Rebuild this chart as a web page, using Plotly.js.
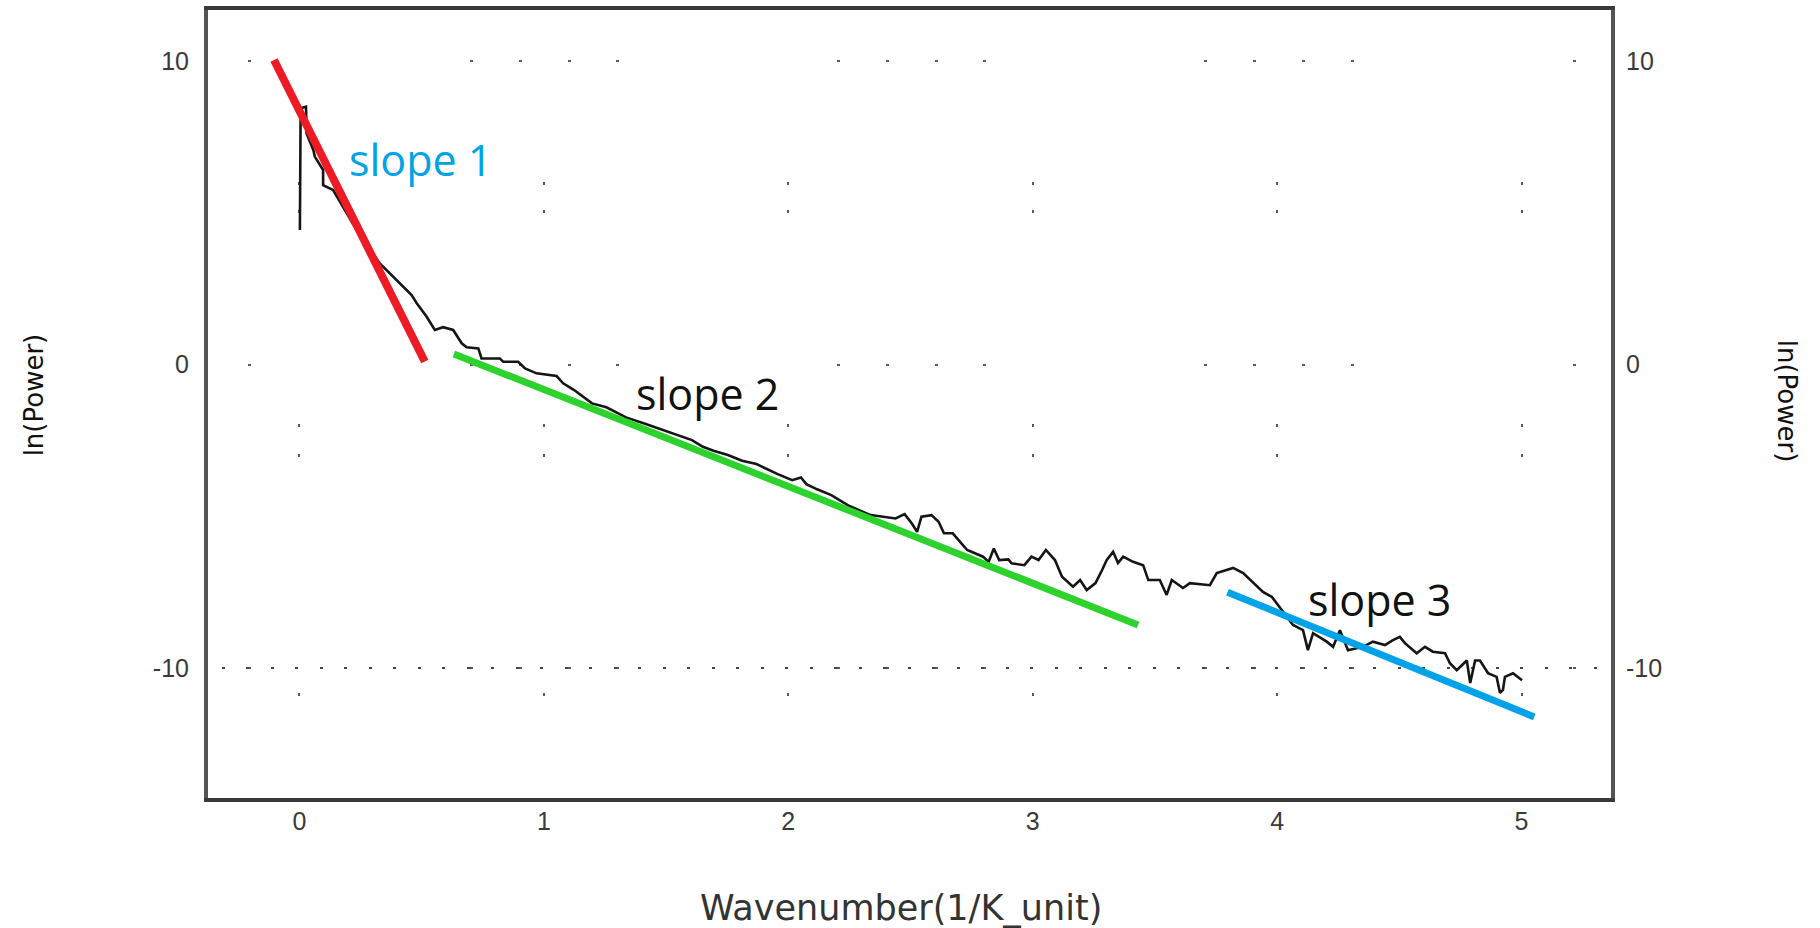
<!DOCTYPE html>
<html>
<head>
<meta charset="utf-8">
<script src="https://cdn.plot.ly/plotly-3.0.1.min.js"></script>
<style>
  html, body { margin: 0; padding: 0; background: #ffffff; }
  #chart { width: 1820px; height: 928px; }
</style>
</head>
<body>
<div id="chart"></div>
<script>
// ---------------- DATA ----------------
// Spectrum: ln(Power) against wavenumber
const wavenumber = [
  0.002, 0.005, 0.027, 0.029, 0.057, 0.063, 0.097, 0.097, 0.138, 0.234,
  0.329, 0.370, 0.411, 0.439, 0.459, 0.480, 0.520, 0.554, 0.588, 0.629,
  0.664, 0.684, 0.732, 0.745, 0.820, 0.834, 0.895, 0.923, 0.970, 1.052,
  1.079, 1.124, 1.197, 1.256, 1.300, 1.336, 1.417, 1.490, 1.534, 1.606,
  1.651, 1.694, 1.753, 1.811, 1.870, 1.913, 1.957, 2.016, 2.052, 2.074,
  2.118, 2.176, 2.220, 2.250, 2.337, 2.439, 2.476, 2.505, 2.527, 2.545,
  2.586, 2.615, 2.637, 2.673, 2.703, 2.732, 2.797, 2.820, 2.841, 2.863,
  2.900, 2.914, 2.966, 2.995, 3.024, 3.054, 3.091, 3.120, 3.165, 3.194,
  3.221, 3.257, 3.284, 3.303, 3.329, 3.349, 3.370, 3.411, 3.452, 3.473,
  3.520, 3.548, 3.569, 3.615, 3.643, 3.725, 3.753, 3.820, 3.861, 3.902,
  3.942, 3.978, 3.998, 4.019, 4.065, 4.106, 4.126, 4.147, 4.203, 4.229,
  4.257, 4.290, 4.351, 4.392, 4.441, 4.474, 4.502, 4.523, 4.571, 4.605,
  4.637, 4.687, 4.707, 4.735, 4.776, 4.790, 4.810, 4.830, 4.863, 4.898,
  4.912, 4.924, 4.932, 4.965, 5.002
];
const lnPower = [
  4.43, 8.44, 8.49, 7.62, 7.07, 6.85, 6.41, 5.91, 5.75, 4.43,
  3.33, 3.00, 2.68, 2.45, 2.29, 2.02, 1.58, 1.14, 1.23, 1.14,
  0.70, 0.57, 0.53, 0.20, 0.20, 0.09, 0.09, -0.13, -0.29, -0.38,
  -0.62, -0.84, -1.28, -1.41, -1.59, -1.74, -1.96, -2.16, -2.29, -2.49,
  -2.71, -2.84, -2.98, -3.17, -3.28, -3.45, -3.61, -3.81, -3.72, -3.94,
  -4.11, -4.30, -4.52, -4.66, -4.96, -5.07, -4.93, -5.23, -5.51, -5.01,
  -4.96, -5.18, -5.56, -5.56, -5.84, -6.11, -6.33, -6.50, -6.06, -6.44,
  -6.42, -6.55, -6.61, -6.33, -6.44, -6.11, -6.44, -6.99, -7.32, -7.10,
  -7.43, -7.20, -6.77, -6.44, -6.17, -6.54, -6.33, -6.50, -6.61, -7.10,
  -7.10, -7.59, -7.10, -7.36, -7.20, -7.27, -6.87, -6.70, -6.87, -7.20,
  -7.49, -7.65, -7.86, -8.09, -8.58, -8.75, -9.41, -8.85, -9.13, -9.30,
  -8.75, -9.41, -9.30, -9.13, -9.24, -9.08, -8.97, -9.18, -9.51, -9.30,
  -9.46, -9.51, -9.84, -10.07, -9.75, -10.49, -9.75, -9.75, -10.17, -10.29,
  -10.82, -10.72, -10.29, -10.17, -10.40
];

// Hand-drawn slope lines (end points)
const slope1X = [-0.104, 0.513];
const slope1Y = [10.03, 0.10];
const slope2X = [0.632, 3.431];
const slope2Y = [0.35, -8.58];
const slope3X = [3.797, 5.052];
const slope3Y = [-7.50, -11.61];

const slopeLabels = ['slope 1', 'slope 2', 'slope 3'];

// Axis ticks
const xTickVals = [0, 1, 2, 3, 4, 5];
const xTickText = ['0', '1', '2', '3', '4', '5'];
const yTickVals = [-10, 0, 10];
const yTickText = ['-10', '0', '10'];

const xTitle = 'Wavenumber(1/K_unit)';
const yTitle = 'ln(Power)';

// ---------------- STYLE ----------------
const X_RANGE = [-0.374, 5.366];
const Y_RANGE = [-14.28, 11.68];

// dotted-grid patterns (pixel offsets of the dots along each grid line)
function dotPattern(offsets, dotLen, tail) {
  const parts = [];
  let pos = 0;
  parts.push('0px');
  offsets.forEach(function (o) {
    const start = o - dotLen / 2;
    parts.push((start - pos).toFixed(1) + 'px');
    parts.push(dotLen + 'px');
    pos = start + dotLen;
  });
  parts.push(tail + 'px');
  return parts.join(',');
}
const vDots = [173, 201, 415, 445, 684];
const hDots = [41, 263, 312, 361, 409, 630, 679, 728, 776, 997, 1046, 1095, 1144, 1366];
const denseDots = [];
for (let k = 0; k < 57; k++) denseDots.push(15 + 24.5 * k);

const tickFont = { family: 'Liberation Sans, Arial, sans-serif', size: 25, color: '#3a3a3a' };
const titleFont = { family: 'DejaVu Sans, sans-serif', size: 35, color: '#333333' };
const yTitleFont = { family: 'DejaVu Sans, sans-serif', size: 26, color: '#111111' };
const slopeFont = { family: 'Open Sans, sans-serif', size: 43 };

const traces = [
  {
    x: wavenumber, y: lnPower, type: 'scatter', mode: 'lines',
    line: { color: '#151515', width: 2.6 }, hoverinfo: 'skip', xaxis: 'x', yaxis: 'y'
  },
  {
    x: slope1X, y: slope1Y, type: 'scatter', mode: 'lines',
    line: { color: '#ed1c24', width: 8 }, xaxis: 'x', yaxis: 'y'
  },
  {
    x: slope2X, y: slope2Y, type: 'scatter', mode: 'lines',
    line: { color: '#2dd22d', width: 7 }, xaxis: 'x', yaxis: 'y2'
  },
  {
    x: slope3X, y: slope3Y, type: 'scatter', mode: 'lines',
    line: { color: '#00a2e8', width: 7 }, xaxis: 'x', yaxis: 'y3'
  }
];

const layout = {
  width: 1820, height: 928,
  margin: { l: 208, r: 209, t: 10, b: 130, pad: 0 },
  paper_bgcolor: '#ffffff', plot_bgcolor: '#ffffff',
  showlegend: false,
  xaxis: {
    range: X_RANGE, tickmode: 'array', tickvals: xTickVals, ticktext: xTickText,
    ticks: '', ticklabelstandoff: -2, tickfont: tickFont,
    showgrid: true, gridcolor: '#5a5a5a', gridwidth: 2, griddash: dotPattern(vDots, 3, 400),
    zeroline: false, showline: true, mirror: true, linecolor: '#3a3a3a', linewidth: 4,
    fixedrange: true
  },
  yaxis: {
    range: Y_RANGE, tickmode: 'array', tickvals: yTickVals, ticktext: yTickText,
    ticks: '', ticklabelstandoff: 10, tickfont: tickFont,
    showgrid: true, gridcolor: '#5a5a5a', gridwidth: 2, griddash: dotPattern(hDots, 3, 400),
    zeroline: false, showline: true, mirror: true, linecolor: '#555555', linewidth: 4,
    fixedrange: true
  },
  yaxis2: {
    range: Y_RANGE, overlaying: 'y', side: 'right', anchor: 'x',
    tickmode: 'array', tickvals: yTickVals, ticktext: yTickText,
    ticks: '', ticklabelstandoff: 14, tickfont: tickFont,
    showgrid: false, zeroline: false, showline: false, fixedrange: true
  },
  yaxis3: {
    range: Y_RANGE, overlaying: 'y', side: 'left', anchor: 'x',
    tickmode: 'array', tickvals: [yTickVals[0]], showticklabels: false, ticks: '',
    showgrid: true, gridcolor: '#444444', gridwidth: 2, griddash: dotPattern(denseDots, 3, 400),
    zeroline: false, showline: false, fixedrange: true
  },
  annotations: [
    { text: xTitle, xref: 'paper', yref: 'paper', x: 0.494, y: -0.1396,
      xanchor: 'center', yanchor: 'middle', showarrow: false, font: titleFont },
    { text: yTitle, xref: 'paper', yref: 'paper', x: -0.124, y: 0.511,
      xanchor: 'center', yanchor: 'middle', textangle: -90, showarrow: false, font: yTitleFont },
    { text: yTitle, xref: 'paper', yref: 'paper', x: 1.1254, y: 0.503,
      xanchor: 'center', yanchor: 'middle', textangle: 90, showarrow: false, font: yTitleFont },
    { text: slopeLabels[0], xref: 'x', yref: 'y', x: 0.497, y: 6.74,
      xanchor: 'center', yanchor: 'middle', showarrow: false,
      font: Object.assign({}, slopeFont, { color: '#00a2e8' }) },
    { text: slopeLabels[1], xref: 'x', yref: 'y', x: 1.671, y: -0.97,
      xanchor: 'center', yanchor: 'middle', showarrow: false,
      font: Object.assign({}, slopeFont, { color: '#111111' }) },
    { text: slopeLabels[2], xref: 'x', yref: 'y', x: 4.417, y: -7.73,
      xanchor: 'center', yanchor: 'middle', showarrow: false,
      font: Object.assign({}, slopeFont, { color: '#111111' }) }
  ]
};

Plotly.newPlot('chart', traces, layout, { displayModeBar: false, staticPlot: true });
</script>
</body>
</html>
